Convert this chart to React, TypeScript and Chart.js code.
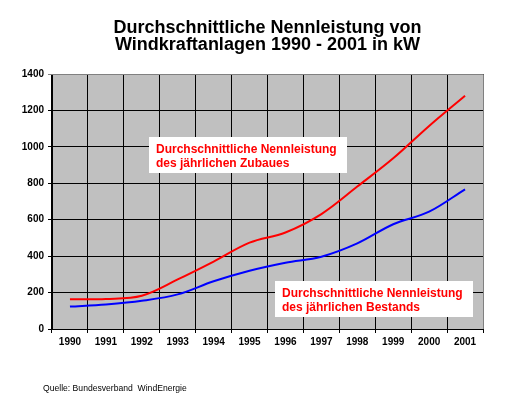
import React, { useEffect, useRef } from "react";
import { Chart, registerables } from "chart.js";

Chart.register(...registerables);

const years = ["1990", "1991", "1992", "1993", "1994", "1995", "1996", "1997", "1998", "1999", "2000", "2001"];
const zubau = [163, 165, 183, 272, 370, 474, 530, 631, 782, 937, 1115, 1281];
const bestand = [123, 135, 155, 190, 262, 320, 364, 397, 470, 575, 644, 767];
const yTicks = [0, 200, 400, 600, 800, 1000, 1200, 1400];
const titleLines = ["Durchschnittliche Nennleistung von", "Windkraftanlagen 1990 - 2001 in kW"];
const labelZubau = ["Durchschnittliche Nennleistung", "des jährlichen Zubaues"];
const labelBestand = ["Durchschnittliche Nennleistung", "des jährlichen Bestands"];
const sourceText = "Quelle: Bundesverband  WindEnergie";

const FONT = "Arial, 'Liberation Sans', sans-serif";

const decorPlugin = {
  id: "decor",
  beforeDraw(chart: any) {
    const { ctx, chartArea: a } = chart;
    ctx.save();
    ctx.fillStyle = "#ffffff";
    ctx.fillRect(0, 0, chart.width, chart.height);
    ctx.fillStyle = "#c0c0c0";
    ctx.fillRect(a.left, a.top, a.right - a.left, a.bottom - a.top);
    ctx.restore();
  },
  beforeDatasetsDraw(chart: any) {
    const { ctx, chartArea: a } = chart;
    ctx.save();
    ctx.strokeStyle = "#808080";
    ctx.lineWidth = 1;
    ctx.beginPath();
    ctx.moveTo(a.left, Math.round(a.top) + 0.5);
    ctx.lineTo(Math.round(a.right) + 0.5, Math.round(a.top) + 0.5);
    ctx.lineTo(Math.round(a.right) + 0.5, a.bottom);
    ctx.stroke();
    ctx.strokeStyle = "#000";
    ctx.beginPath();
    ctx.moveTo(Math.round(a.right) + 0.5, a.bottom);
    ctx.lineTo(Math.round(a.right) + 0.5, a.bottom + 4);
    ctx.stroke();
    ctx.restore();
  },
  afterDraw(chart: any) {
    const { ctx, chartArea: a } = chart;
    ctx.save();
    ctx.fillStyle = "#000";
    ctx.font = `bold 18px ${FONT}`;
    ctx.textAlign = "center";
    ctx.textBaseline = "alphabetic";
    const cx = (a.left + a.right) / 2;
    ctx.fillText(titleLines[0], cx, 33);
    ctx.fillText(titleLines[1], cx, 50);

    const drawBox = (x: number, y: number, w: number, h: number, lines: string[]) => {
      ctx.fillStyle = "#ffffff";
      ctx.fillRect(x, y, w, h);
      ctx.fillStyle = "#ff0000";
      ctx.font = `bold 12px ${FONT}`;
      ctx.textAlign = "left";
      ctx.textBaseline = "alphabetic";
      ctx.fillText(lines[0], x + 7, y + 16);
      ctx.fillText(lines[1], x + 7, y + 30);
    };
    drawBox(a.left + 97, a.top + 63, 198, 36, labelZubau);
    drawBox(a.left + 223, a.top + 207, 198, 36, labelBestand);

    ctx.fillStyle = "#000";
    ctx.font = `8.6px ${FONT}`;
    ctx.textAlign = "left";
    ctx.textBaseline = "middle";
    ctx.fillText(sourceText, 43, 389);
    ctx.restore();
  },
};

export default function App() {
  const ref = useRef<HTMLCanvasElement>(null);
  useEffect(() => {
    document.body.style.margin = "0";
    const chart = new Chart(ref.current as HTMLCanvasElement, {
      type: "line",
      data: {
        labels: years,
        datasets: [
          {
            label: "Zubau",
            data: zubau,
            borderColor: "#ff0000",
            borderWidth: 2,
            pointRadius: 0,
            tension: 0.35,
            fill: false,
          },
          {
            label: "Bestand",
            data: bestand,
            borderColor: "#0000ff",
            borderWidth: 2,
            pointRadius: 0,
            tension: 0.35,
            fill: false,
          },
        ],
      },
      options: {
        responsive: false,
        animation: false,
        devicePixelRatio: 1,
        layout: { padding: { left: 0, right: 32, top: 74, bottom: 50 } },
        plugins: {
          legend: { display: false },
          title: { display: false },
          tooltip: { enabled: false },
        },
        scales: {
          x: {
            type: "category",
            offset: true,
            grid: { offset: true, color: "#000000", lineWidth: 1, tickLength: 4 },
            border: { color: "#000000", width: 1 },
            ticks: {
              color: "#000000",
              font: { family: FONT, size: 10, weight: "bold" },
              padding: 3,
              maxRotation: 0,
              autoSkip: false,
            },
            afterFit(scale: any) {
              scale.height = 20;
            },
          },
          y: {
            min: 0,
            max: 1400,
            afterBuildTicks(scale: any) {
              scale.ticks = yTicks.map((v) => ({ value: v }));
            },
            grid: {
              color: (c: any) => (c.tick && c.tick.value === 1400 ? "#808080" : "#000000"),
              lineWidth: 1,
              tickLength: 4,
            },
            border: { color: "#000000", width: 1 },
            ticks: {
              color: "#000000",
              font: { family: FONT, size: 10, weight: "bold" },
              padding: 4,
              callback: (v: any) => String(v),
            },
            afterFit(scale: any) {
              scale.width = 52;
            },
          },
        },
      },
      plugins: [decorPlugin],
    } as any);
    return () => chart.destroy();
  }, []);
  return (
    <div style={{ position: "absolute", left: 0, top: 0, width: 515, height: 399 }}>
      <canvas ref={ref} width={515} height={399} style={{ width: 515, height: 399, display: "block" }} />
    </div>
  );
}
